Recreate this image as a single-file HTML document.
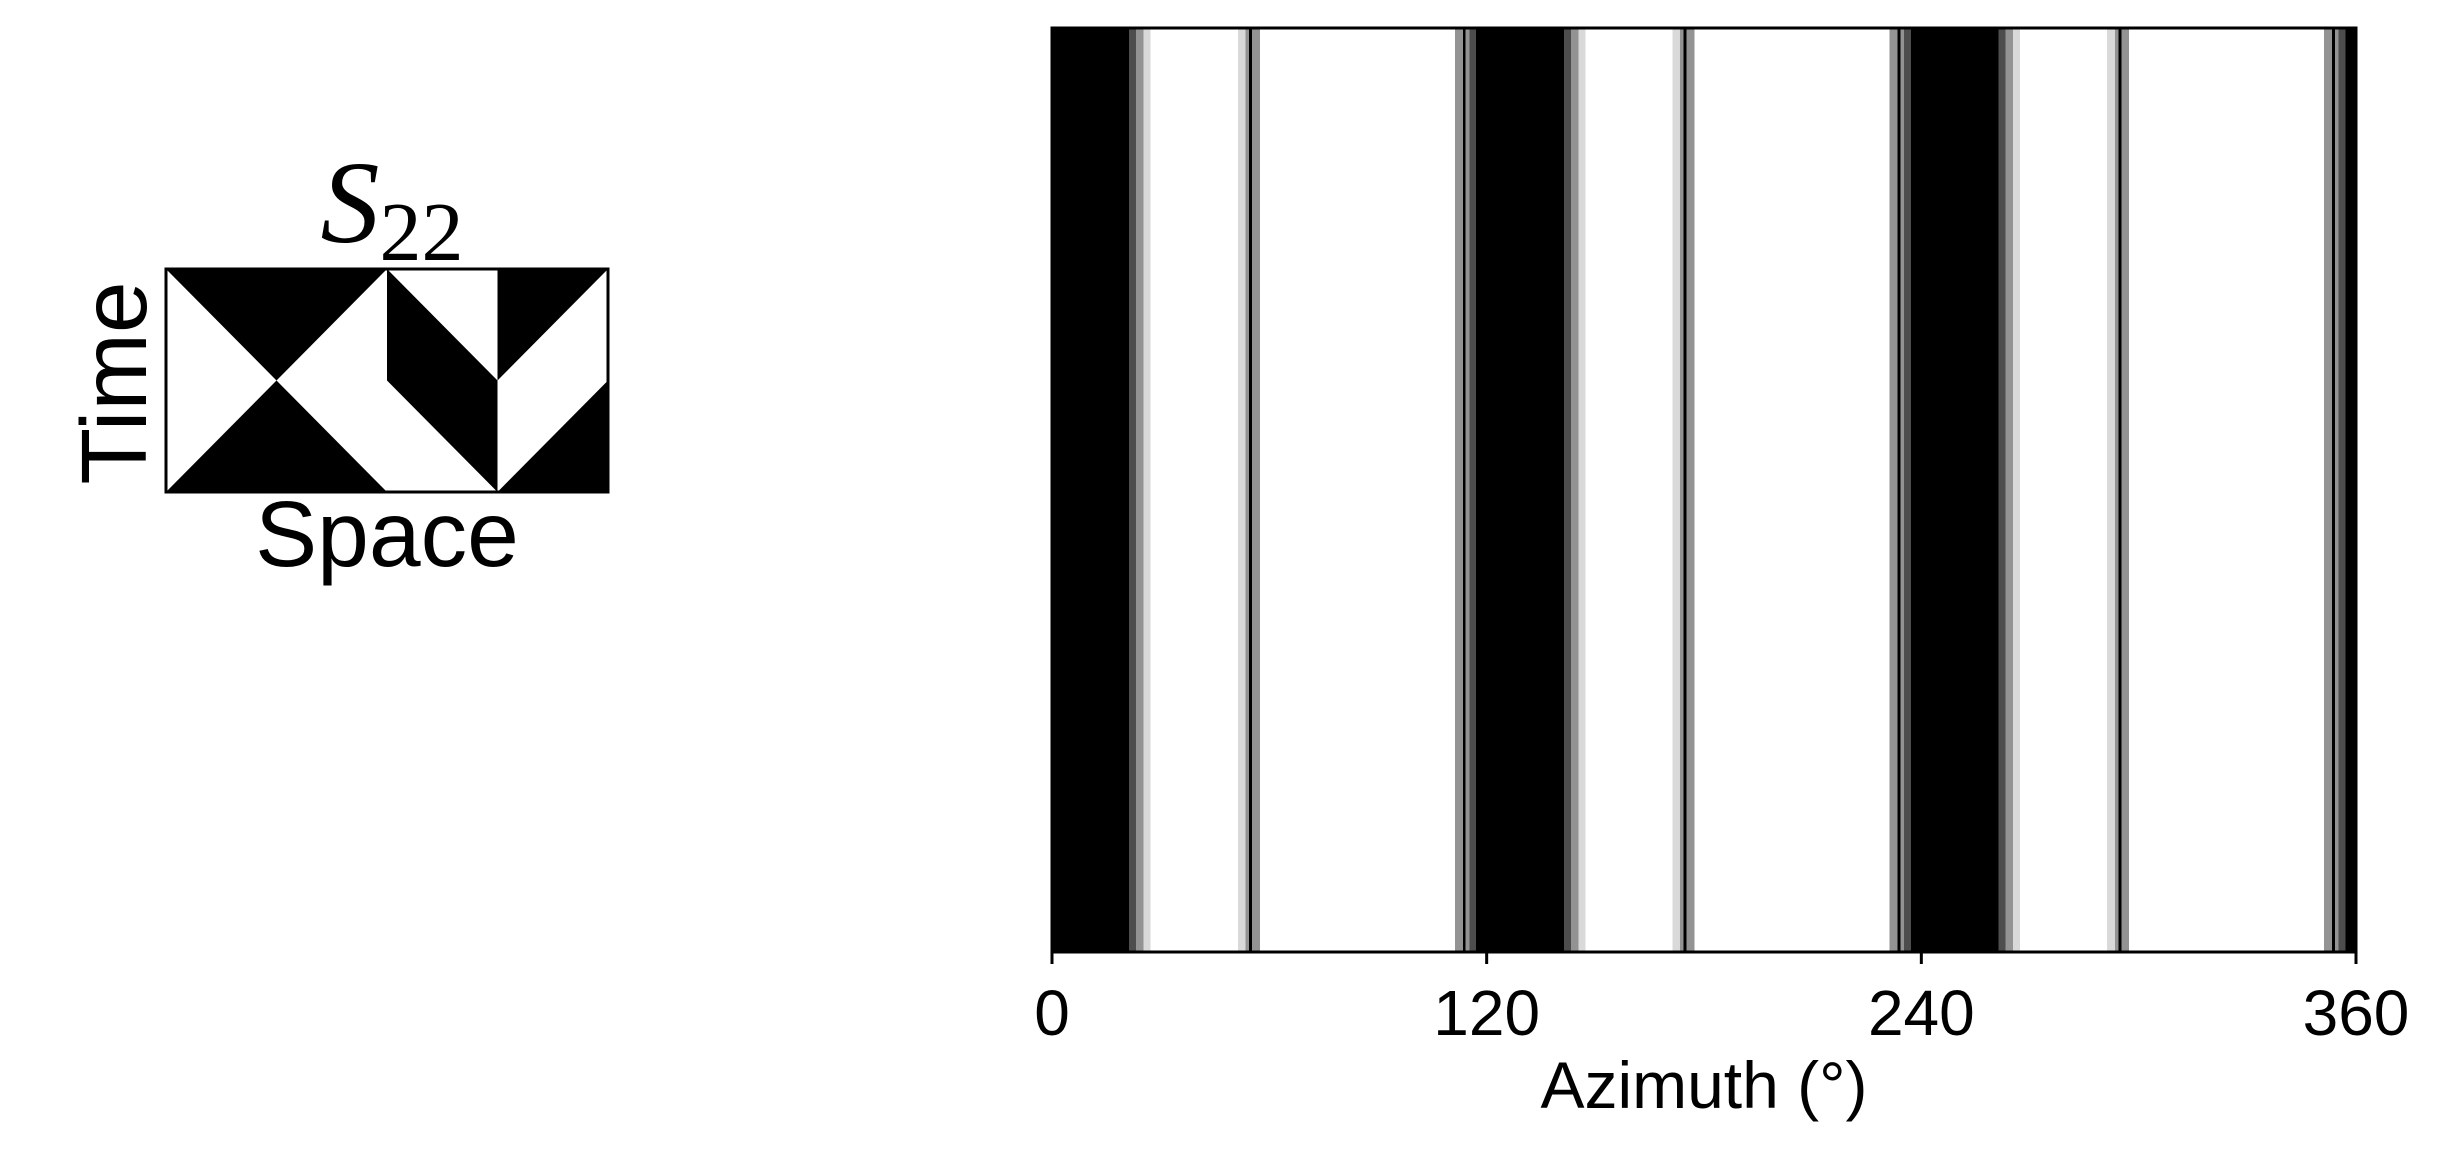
<!DOCTYPE html>
<html><head><meta charset="utf-8"><style>
html,body{margin:0;padding:0;background:#fff;}
svg{display:block;}
text{font-family:"Liberation Sans",sans-serif;fill:#000;}
</style></head><body>
<svg id="fig" width="2440" height="1151" viewBox="0 0 2440 1151" xmlns="http://www.w3.org/2000/svg">
  <g id="inset">
    <rect x="166" y="269" width="442" height="223" fill="#fff"/>
    <g id="inset-shapes"></g>
    <rect x="166" y="269" width="442" height="223" fill="none" stroke="#000" stroke-width="3"/>
    <text x="392" y="242" text-anchor="middle" font-size="118" style="font-family:'Liberation Serif',serif;font-style:italic">S<tspan font-size="84" font-style="normal" dy="18">22</tspan></text>
    <text x="0" y="0" transform="translate(146,383) rotate(-90)" text-anchor="middle" font-size="93">Time</text>
    <text x="387" y="566" text-anchor="middle" font-size="93">Space</text>
  </g>
  <g id="plot">
    <g id="stripes"></g>
    <rect x="1052" y="28" width="1304" height="924" fill="none" stroke="#000" stroke-width="3"/>
    <g id="ticks"></g>
    <text x="1704" y="1108" text-anchor="middle" font-size="66">Azimuth (°)</text>
  </g>
</svg>
<script>
const NS='http://www.w3.org/2000/svg';
// stripe data: start degree, end degree, gray level (0=black,255=white)
const segStart=[0,21.2,23.2,25.2,51.3,53.4,54.4,55.2,111.2,113.4,114.2,115.2,
 120,141.3,143.3,145.3,171.3,173.4,174.4,175.2,231.2,233.4,234.2,235.2,
 240,261.3,263.3,265.3,291.3,293.4,294.4,295.2,351.2,353.4,354.2,355.2];
const segEnd=[21.2,23.2,25.2,27.2,53.4,54.4,55.2,57.4,113.4,114.2,115.2,117.2,
 141.3,143.3,145.3,147.3,173.4,174.4,175.2,177.4,233.4,234.2,235.2,237.2,
 261.3,263.3,265.3,267.3,293.4,294.4,295.2,297.4,353.4,354.2,355.2,357.2];
const segGray=[0,77,147,217,217,147,0,147,147,0,147,77,
 0,77,147,217,217,147,0,147,147,0,147,77,
 0,77,147,217,217,147,0,147,147,0,147,77];
const blackEnd=[120.3,240.3,360];
const blackStart=[117.1,237.1,357.1];
const tickVals=[0,120,240,360];
const tickLabels=['0','120','240','360'];
const xMin=0,xMax=360,px0=1052,px1=2356,py0=28,py1=952;
const X=v=>px0+(v-xMin)/(xMax-xMin)*(px1-px0);
const sg=document.getElementById('stripes');
function rect(x0,x1,g,name){
  const r=document.createElementNS(NS,'rect');
  r.setAttribute('x',X(x0));r.setAttribute('y',py0);
  r.setAttribute('width',Math.max(0,X(x1)-X(x0)));r.setAttribute('height',py1-py0);
  r.setAttribute('fill',`rgb(${g},${g},${g})`);
  r.setAttribute('shape-rendering','crispEdges');
  
  
  sg.appendChild(r);
}
for(let i=0;i<segStart.length;i++) rect(segStart[i],segEnd[i],segGray[i],'stripe');
for(let i=0;i<blackStart.length;i++) rect(blackStart[i],blackEnd[i],0,'black-band');
const tg=document.getElementById('ticks');
tickVals.forEach((v,i)=>{
  const l=document.createElementNS(NS,'line');
  l.setAttribute('x1',X(v));l.setAttribute('x2',X(v));l.setAttribute('y1',py1);l.setAttribute('y2',py1+12);
  l.setAttribute('stroke','#000');l.setAttribute('stroke-width','3');
  
  
  tg.appendChild(l);
  const t=document.createElementNS(NS,'text');
  t.setAttribute('x',X(v));t.setAttribute('y',1035);t.setAttribute('text-anchor','middle');t.setAttribute('font-size','64');
  t.textContent=tickLabels[i];
  
  
  tg.appendChild(t);
});
// inset polygons in unit coords (u 0..4, v 0..1)
const insetPolys=[[[0,0],[2,0],[1,.5]],[[0,1],[1,.5],[2,1]],[[2,0],[3,.5],[3,1],[2,.5]],[[3,0],[4,0],[3,.5]],[[3,1],[4,.5],[4,1]]];
const ig=document.getElementById('inset-shapes');
insetPolys.forEach(p=>{
  const pg=document.createElementNS(NS,'polygon');
  pg.setAttribute('points',p.map(q=>(166+q[0]*442/4)+','+(269+q[1]*223)).join(' '));
  pg.setAttribute('fill','#000');
  
  
  ig.appendChild(pg);
});
</script>
</body></html>
